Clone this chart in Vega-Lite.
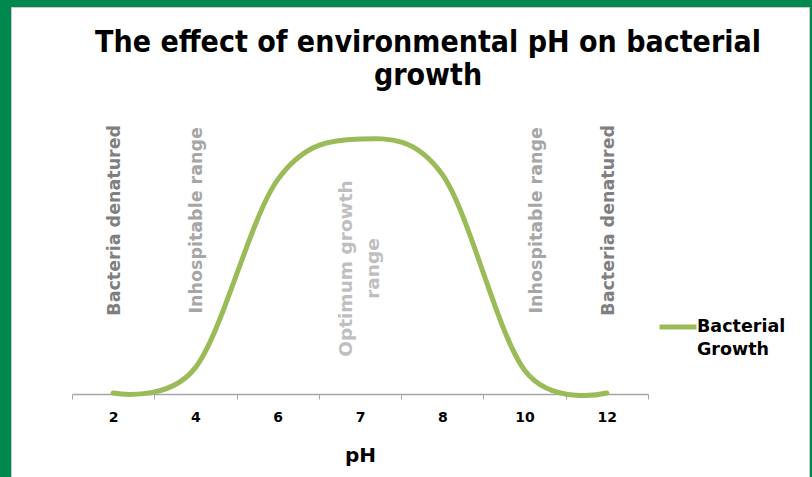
{
  "$schema": "https://vega.github.io/schema/vega-lite/v6.json",
  "width": 798,
  "height": 470,
  "autosize": {"type": "none"},
  "padding": {"left": 11, "top": 7, "right": 3, "bottom": 0},
  "background": "#00894f",
  "config": {
    "view": {"fill": "white", "stroke": "#c8c8c8", "strokeWidth": 1},
    "font": "DejaVu Sans"
  },
  "title": {
    "text": ["The effect of environmental pH on bacterial", "growth"],
    "font": "DejaVu Sans Condensed",
    "fontSize": 30,
    "fontWeight": "bold",
    "color": "black",
    "anchor": "middle",
    "frame": "group",
    "baseline": "top",
    "offset": -84,
    "dx": 18,
    "lineHeight": 33
  },
  "datasets": {
    "growth": [
      {"ph": 2, "growth": 0, "series": "Bacterial Growth"},
      {"ph": 4, "growth": 10, "series": "Bacterial Growth"},
      {"ph": 6, "growth": 84, "series": "Bacterial Growth"},
      {"ph": 7, "growth": 100, "series": "Bacterial Growth"},
      {"ph": 8, "growth": 86, "series": "Bacterial Growth"},
      {"ph": 10, "growth": 9, "series": "Bacterial Growth"},
      {"ph": 12, "growth": 0, "series": "Bacterial Growth"}
    ],
    "notes": [
      {"ph": 2, "level": 68, "label": "Bacteria denatured", "tone": "dark"},
      {"ph": 4, "level": 68, "label": "Inhospitable range", "tone": "mid"},
      {"ph": 7, "level": 49, "label": "Optimum growth\nrange", "tone": "light"},
      {"ph": 10, "level": 68, "label": "Inhospitable range", "tone": "mid"},
      {"ph": 12, "level": 68, "label": "Bacteria denatured", "tone": "dark"}
    ]
  },
  "layer": [
    {
      "data": {"name": "growth"},
      "mark": {"type": "line", "interpolate": "cardinal", "strokeWidth": 5, "strokeCap": "round"},
      "encoding": {
        "x": {
          "field": "ph",
          "type": "ordinal",
          "scale": {"type": "band", "range": [61, 637], "paddingInner": 0, "paddingOuter": 0},
          "axis": {
            "title": "pH",
            "orient": "bottom",
            "offset": -83,
            "labelAngle": 0,
            "labelFontSize": 14,
            "labelFontWeight": "bold",
            "labelColor": "black",
            "labelPadding": 11,
            "tickBand": "extent",
            "tickSize": 5,
            "tickColor": "#a6a6a6",
            "domainColor": "#a6a6a6",
            "domainWidth": 1.5,
            "titleFontSize": 20,
            "titleFontWeight": "bold",
            "titleColor": "black",
            "titlePadding": 21,
            "grid": false
          }
        },
        "y": {
          "field": "growth",
          "type": "quantitative",
          "scale": {"domain": [0, 100], "range": [386, 132], "nice": false},
          "axis": null
        },
        "stroke": {
          "field": "series",
          "type": "nominal",
          "scale": {"range": ["#9bbb59"]},
          "legend": {
            "orient": "none",
            "legendX": 646,
            "legendY": 299,
            "title": null,
            "symbolType": "stroke",
            "symbolSize": 1369,
            "symbolStrokeWidth": 5,
            "labelFontSize": 17.5,
            "labelFontWeight": "bold",
            "labelColor": "black",
            "labelOffset": -2,
            "labelExpr": "split(datum.label, ' ')",
            "encode": {"labels": {"update": {"lineHeight": {"value": 23}}}}
          }
        }
      }
    },
    {
      "data": {"name": "notes"},
      "transform": [{"filter": "datum.ph == 2 || datum.ph == 4 || datum.ph == 12"}],
      "mark": {"type": "text", "angle": 270, "fontWeight": "bold", "fontSize": 17.5, "baseline": "middle", "align": "center", "dy": 2},
      "encoding": {
        "x": {"field": "ph", "type": "ordinal"},
        "y": {"field": "level", "type": "quantitative"},
        "text": {"field": "label"},
        "fill": {
          "field": "tone",
          "type": "nominal",
          "scale": {"domain": ["dark", "mid", "light"], "range": ["#7f7f7f", "#a6a6a6", "#bfbfbf"]},
          "legend": null
        }
      }
    },
    {
      "data": {"name": "notes"},
      "transform": [{"filter": "datum.ph == 7"}],
      "mark": {"type": "text", "angle": 270, "fontWeight": "bold", "fontSize": 18.5, "baseline": "middle", "align": "center", "lineHeight": 27, "lineBreak": "\n", "dy": -14},
      "encoding": {
        "x": {"field": "ph", "type": "ordinal"},
        "y": {"field": "level", "type": "quantitative"},
        "text": {"field": "label"},
        "fill": {"field": "tone", "type": "nominal", "legend": null}
      }
    },
    {
      "data": {"name": "notes"},
      "transform": [{"filter": "datum.ph == 10"}],
      "mark": {"type": "text", "angle": 270, "fontWeight": "bold", "fontSize": 17.5, "baseline": "middle", "align": "center", "dy": 12},
      "encoding": {
        "x": {"field": "ph", "type": "ordinal"},
        "y": {"field": "level", "type": "quantitative"},
        "text": {"field": "label"},
        "fill": {"field": "tone", "type": "nominal", "legend": null}
      }
    }
  ]
}
